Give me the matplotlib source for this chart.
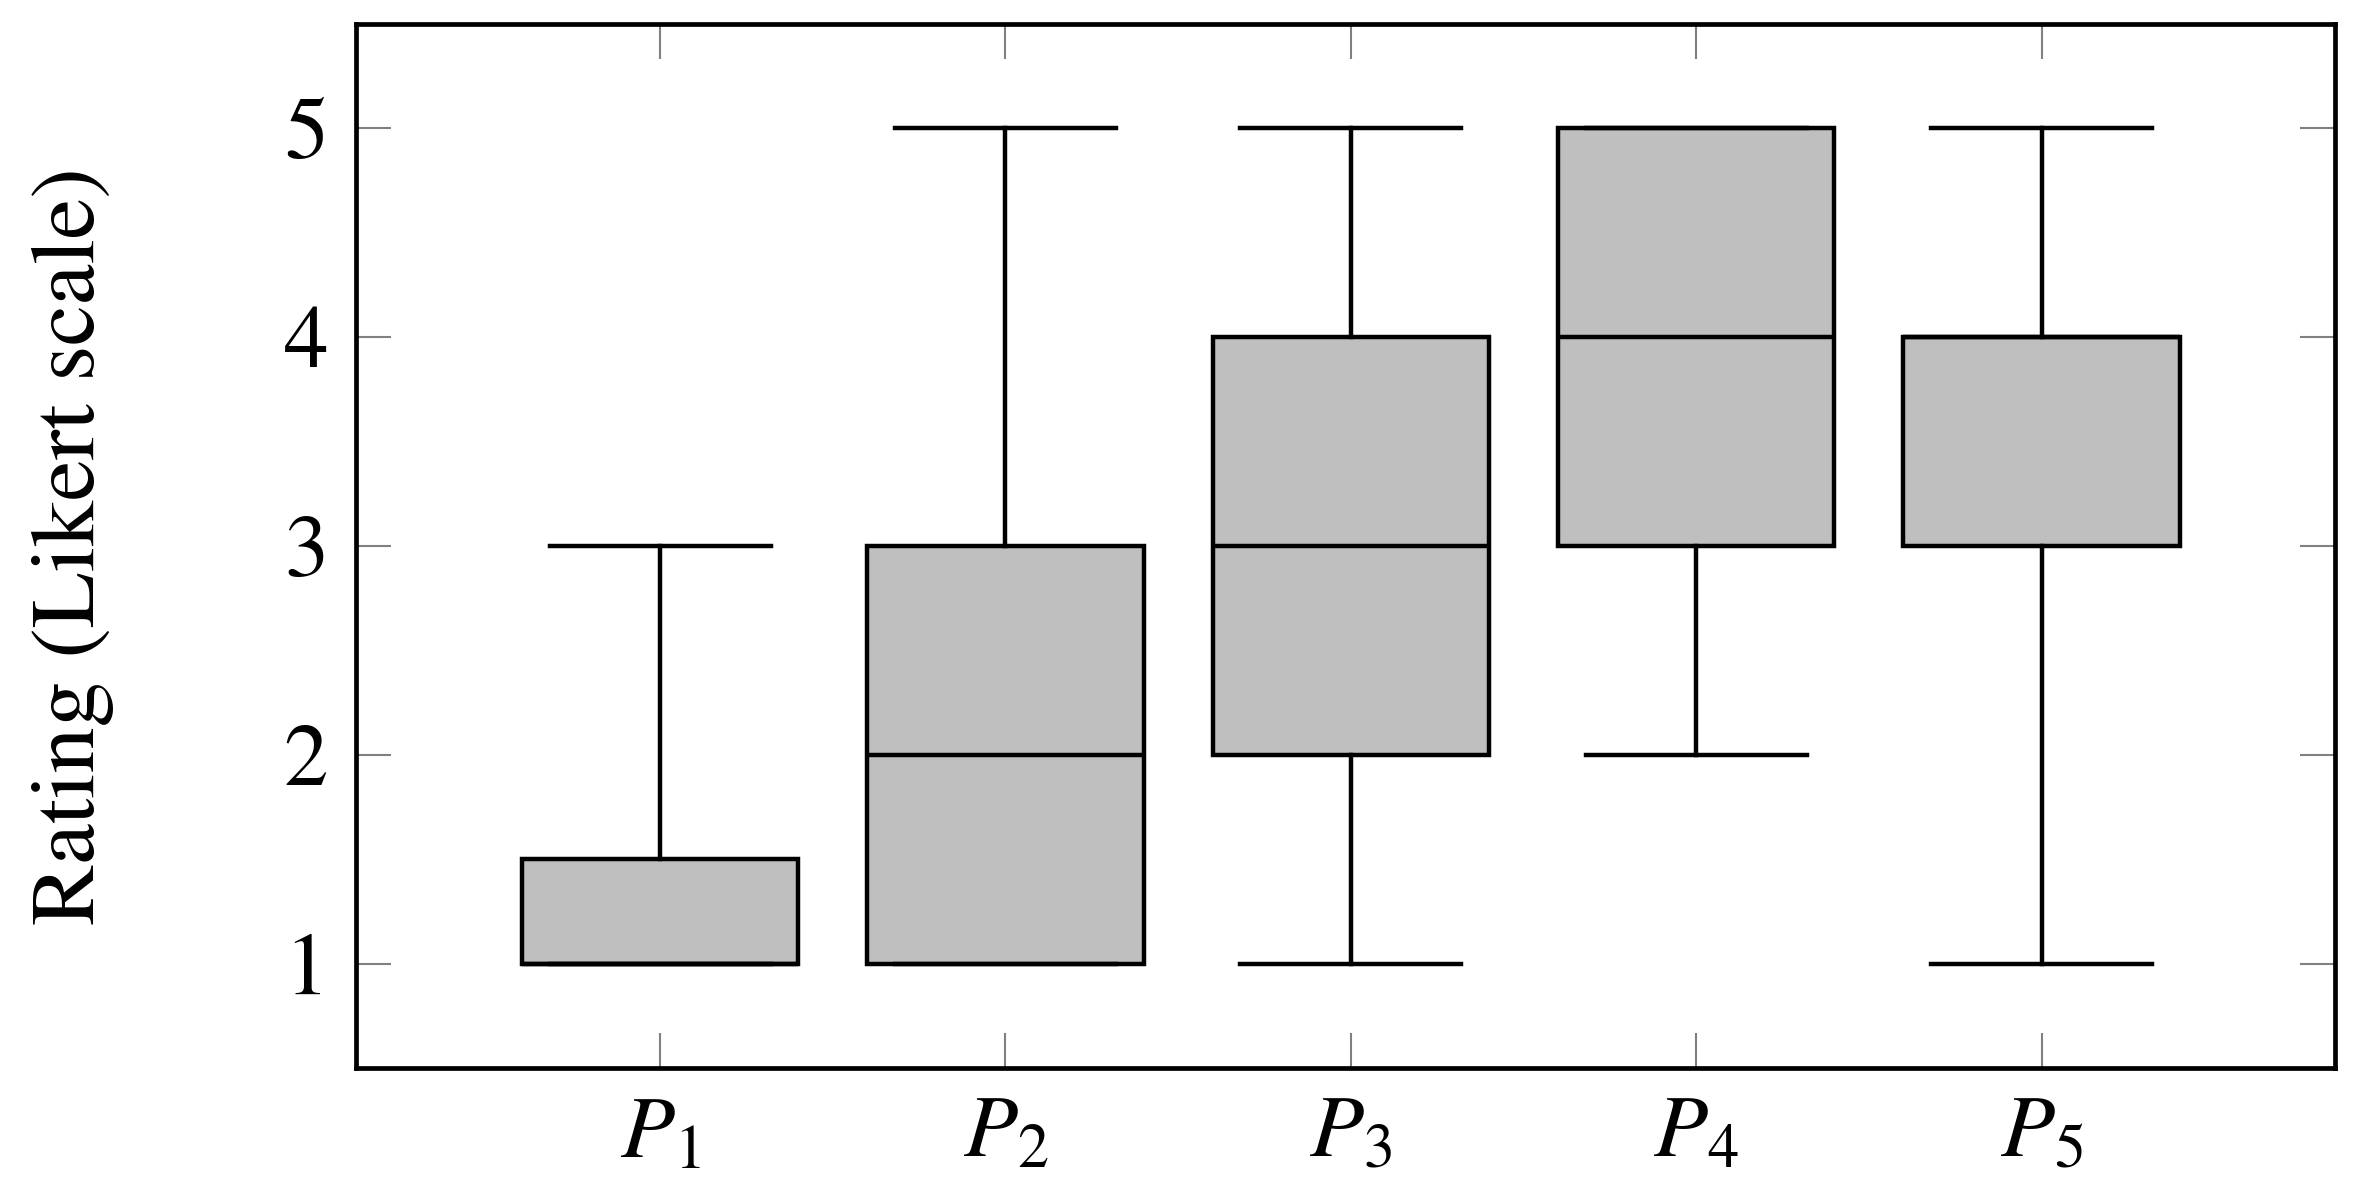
import matplotlib
matplotlib.use("Agg")
import matplotlib.pyplot as plt

# dane (skala Likerta)
nazwy = [r"$P_1$", r"$P_2$", r"$P_3$", r"$P_4$", r"$P_5$"]
mediany = [1, 2, 3, 4, 4]
q1 = [1, 1, 2, 3, 3]
q3 = [1.5, 3, 4, 5, 4]
dolne = [1, 1, 1, 2, 1]
gorne = [3, 5, 5, 5, 5]

plt.rcParams["font.family"] = "STIXGeneral"
plt.rcParams["mathtext.fontset"] = "stix"

fig = plt.figure(figsize=(23.66, 11.88), dpi=100)
ax = fig.add_axes([0.1505, 0.101, 0.8365, 0.879])

staty = []
for i in range(len(nazwy)):
    staty.append({"med": mediany[i], "q1": q1[i], "q3": q3[i],
                  "whislo": dolne[i], "whishi": gorne[i], "fliers": []})

ax.bxp(staty, positions=range(1, 6), widths=0.8, capwidths=0.64,
       patch_artist=True, showfliers=False,
       boxprops=dict(facecolor="#bfbfbf", edgecolor="black", linewidth=3.2),
       medianprops=dict(color="black", linewidth=3.2),
       whiskerprops=dict(color="black", linewidth=3.2),
       capprops=dict(color="black", linewidth=3.2))

ax.set_xlim(0.12, 5.85)
ax.set_ylim(0.5, 5.5)
ax.set_xticks(range(1, 6))
ax.set_xticklabels(nazwy)
ax.set_yticks([1, 2, 3, 4, 5])
ax.tick_params(direction="in", length=25, width=1.5, color="#808080",
               top=True, right=True, labelsize=64, pad=20)
for s in ax.spines.values():
    s.set_linewidth(3.4)
ax.set_ylabel("Rating (Likert scale)", fontsize=66, labelpad=122)

fig.savefig("out.png", dpi=100)
